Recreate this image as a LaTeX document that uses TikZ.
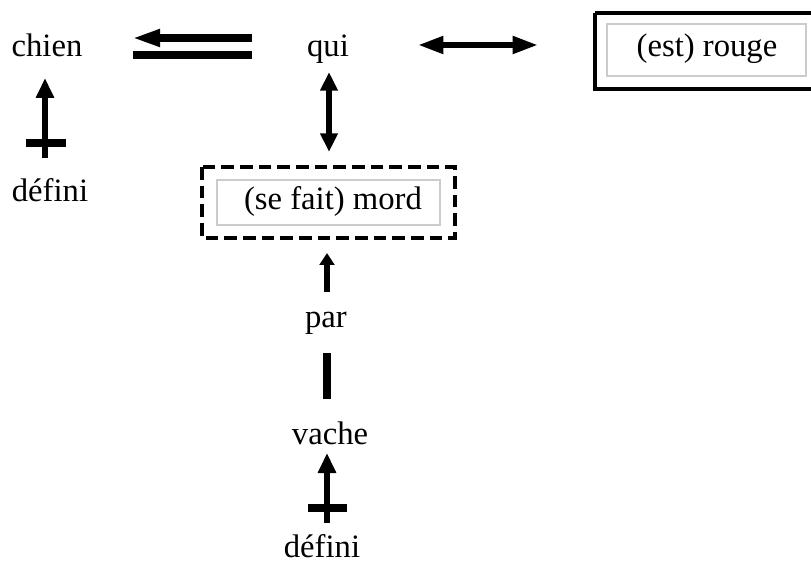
\documentclass[tikz,border=0pt]{standalone}
\usepackage{fontspec}
\setmainfont{Liberation Serif}
\usetikzlibrary{arrows.meta}
\begin{document}
\begin{tikzpicture}[x=0.75pt,y=-0.75pt,
  lbl/.style={font=\fontsize{24.5}{28}\selectfont, inner sep=0pt, anchor=base},
  thick arrow/.style={line width=5.2pt, -{Triangle[length=15pt,width=13pt]}},
  thin arrow/.style={line width=4pt, {Triangle[length=14pt,width=12.5pt]}-{Triangle[length=14pt,width=12.5pt]}},
  bar/.style={line width=6pt},
  graybox/.style={draw=black!20, line width=0.9pt},
]
\useasboundingbox (0,0) rectangle (811,563);

% text nodes
\node[lbl] (chien) at (47,57) {chien};
\node[lbl] (qui) at (328,57) {qui};
\node[lbl] (defA) at (50,202) {défini};
\node[lbl] (rouge) at (707,57) {(est) rouge};
\node[lbl] (mord) at (333,210) {(se fait) mord};
\node[lbl] (par) at (326,327) {par};
\node[lbl] (vache) at (330,444) {vache};
\node[lbl] (defB) at (322,557) {défini};

% boxes
\draw[line width=2.6pt] (595,13) -- (595,89) -- (815,89);
\draw[line width=2.6pt] (595,13) -- (815,13);
\draw[graybox] (607,24) rectangle (806,76);
\draw[line width=2.6pt, dash pattern=on 9.5pt off 4.5pt] (202,167) rectangle (455,238);
\draw[graybox] (217,180) rectangle (440,225);

% coordinates for connector ends
\coordinate (c1) at (252,38);
\coordinate (c2) at (132,38);
\coordinate (c3) at (133,55);
\coordinate (c4) at (252,55);
\coordinate (c5) at (418,45);
\coordinate (c6) at (538,45);
\coordinate (c7) at (329,72);
\coordinate (c8) at (329,152);
\coordinate (c9) at (45,158);
\coordinate (c10) at (45,78);
\coordinate (c11) at (327,292);
\coordinate (c12) at (327,253);
\coordinate (c13) at (327,353);
\coordinate (c14) at (327,399);
\coordinate (c15) at (327,523);
\coordinate (c16) at (327,453);

% connectors
\draw[line width=5.6pt, -{Triangle[length=21pt,width=12pt]}] (c1) -- (c2);
\draw[line width=6pt] (c3) -- (c4);
\draw[line width=4.3pt, {Triangle[length=19pt,width=12.5pt]}-{Triangle[length=19pt,width=12.5pt]}] (c5) -- (c6);
\draw[thin arrow] (c7) -- (c8);
\draw[thick arrow] (c9) -- (c10);
\draw[bar] (26,143) -- (66,143);
\draw[line width=5pt, -{Triangle[length=9pt,width=11pt]}] (c11) -- (c12);
\draw[line width=6pt] (c13) -- (c14);
\draw[thick arrow] (c15) -- (c16);
\draw[bar] (308,508) -- (347,508);
\end{tikzpicture}
\end{document}
